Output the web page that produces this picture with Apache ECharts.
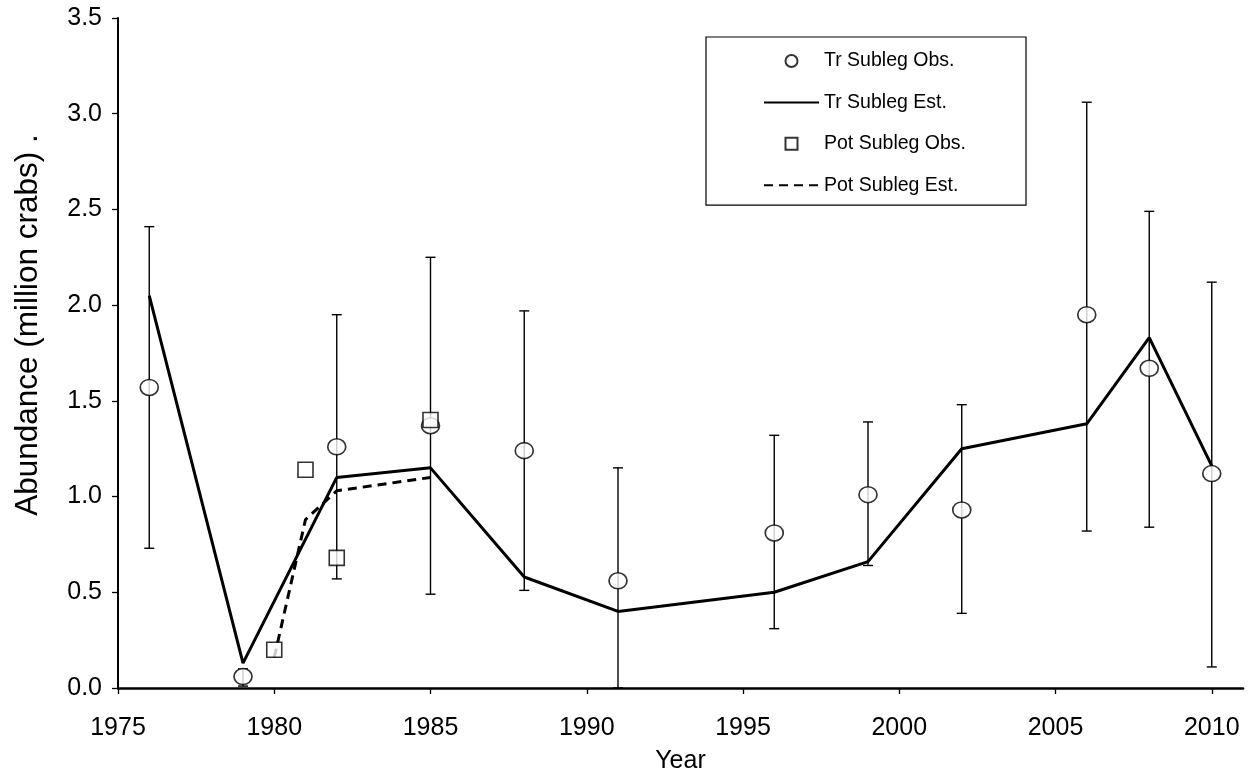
<!DOCTYPE html>
<html>
<head>
<meta charset="utf-8">
<script src="https://cdn.jsdelivr.net/npm/echarts@6/dist/echarts.min.js"></script>
<style>
html,body{margin:0;padding:0;background:#fff;}
#chart{width:1257px;height:773px;}
</style>
</head>
<body>
<div id="chart"></div>
<script>
// ---- data ----
const trObsYears = [1976, 1979, 1982, 1985, 1988, 1991, 1996, 1999, 2002, 2006, 2008, 2010];
const trObs      = [1.57, 0.06, 1.26, 1.37, 1.24, 0.56, 0.81, 1.01, 0.93, 1.95, 1.67, 1.12];
const trObsLow   = [0.73, 0.01, 0.57, 0.49, 0.51, 0.00, 0.31, 0.64, 0.39, 0.82, 0.84, 0.11];
const trObsHigh  = [2.41, 0.10, 1.95, 2.25, 1.97, 1.15, 1.32, 1.39, 1.48, 3.06, 2.49, 2.12];
const trEst      = [2.05, 0.13, 1.10, 1.15, 0.58, 0.40, 0.50, 0.66, 1.25, 1.38, 1.83, 1.16];

const potYears   = [1980, 1981, 1982, 1985];
const potObs     = [0.20, 1.14, 0.68, 1.40];
const potEst     = [0.16, 0.88, 1.03, 1.10];

const xTickValues = [1975, 1980, 1985, 1990, 1995, 2000, 2005, 2010];

const FONT = '"Liberation Sans", Arial, sans-serif';

const chart = echarts.init(document.getElementById('chart'), null, {renderer: 'canvas'});

const pair = (xs, ys) => xs.map((x, i) => [x, ys[i]]);

const option = {
  backgroundColor: '#ffffff',
  animation: false,
  textStyle: {fontFamily: FONT, color: '#000'},
  grid: {left: 118, top: 18, right: 14, bottom: 85, containLabel: false, outerBoundsMode: 'none'},
  legend: {
    orient: 'vertical',
    left: 706,
    top: 37,
    data: [
      {name: 'Tr Subleg Obs.'},
      {name: 'Tr Subleg Est.', itemStyle: {opacity: 0}},
      {name: 'Pot Subleg Obs.', icon: 'path://M0,0L10,0L10,10L0,10Z'},
      {name: 'Pot Subleg Est.', itemStyle: {opacity: 0}}
    ],
    itemWidth: 55,
    itemHeight: 12,
    itemGap: 19.4,
    symbolKeepAspect: true,
    padding: [13, 60, 9, 57],
    borderColor: '#000',
    borderWidth: 1.2,
    backgroundColor: '#fff',
    textStyle: {fontFamily: FONT, fontSize: 19.5, color: '#000', lineHeight: 22},
    selectedMode: false
  },
  xAxis: {
    type: 'value',
    min: 1975,
    max: 2011,
    interval: 5,
    name: 'Year',
    nameLocation: 'middle',
    nameGap: 61,
    nameTextStyle: {fontFamily: FONT, fontSize: 25, color: '#000'},
    axisLine: {lineStyle: {color: '#000', width: 2.5}},
    axisTick: {show: true, inside: false, length: 6, lineStyle: {color: '#000', width: 1.3}, customValues: xTickValues},
    axisLabel: {fontFamily: FONT, fontSize: 25, color: '#000', margin: 28, customValues: xTickValues, formatter: v => String(v)},
    splitLine: {show: false}
  },
  yAxis: {
    type: 'value',
    min: 0,
    max: 3.5,
    interval: 0.5,
    name: 'Abundance (million crabs) .',
    nameLocation: 'middle',
    nameGap: 74,
    nameTextStyle: {fontFamily: FONT, fontSize: 31.5, color: '#000', padding: [0, 0, 0, 56]},
    axisLine: {show: true, lineStyle: {color: '#000', width: 2}},
    axisTick: {show: true, inside: false, length: 6, lineStyle: {color: '#000', width: 1.3}},
    axisLabel: {fontFamily: FONT, fontSize: 25, color: '#000', margin: 16, formatter: v => v.toFixed(1)},
    splitLine: {show: false}
  },
  series: [
    {
      name: 'errorbars',
      type: 'custom',
      z: 2,
      data: trObsYears.map((x, i) => [x, trObsLow[i], trObsHigh[i]]),
      renderItem: function (params, api) {
        const lo = api.coord([api.value(0), api.value(1)]);
        const hi = api.coord([api.value(0), api.value(2)]);
        const half = 5;
        const st = {stroke: '#000', lineWidth: 1.4};
        return {
          type: 'group',
          children: [
            {type: 'line', shape: {x1: lo[0], y1: hi[1], x2: lo[0], y2: lo[1]}, style: st},
            {type: 'line', shape: {x1: lo[0] - half, y1: hi[1], x2: lo[0] + half, y2: hi[1]}, style: st},
            {type: 'line', shape: {x1: lo[0] - half, y1: lo[1], x2: lo[0] + half, y2: lo[1]}, style: st}
          ]
        };
      },
      silent: true
    },
    {
      name: 'Tr Subleg Est.',
      type: 'line',
      z: 3,
      data: pair(trObsYears, trEst),
      symbol: 'none',
      lineStyle: {color: '#000', width: 3, type: 'solid'},
      itemStyle: {color: 'rgba(0,0,0,0)'}
    },
    {
      name: 'Pot Subleg Est.',
      type: 'line',
      z: 3,
      data: pair(potYears, potEst),
      symbol: 'none',
      lineStyle: {color: '#000', width: 3, type: [9, 6]},
      itemStyle: {color: 'rgba(0,0,0,0)'}
    },
    {
      name: 'Tr Subleg Obs.',
      type: 'scatter',
      z: 4,
      data: pair(trObsYears, trObs),
      symbol: 'circle',
      symbolSize: [18, 16],
      itemStyle: {color: '#fff', borderColor: '#000', borderWidth: 1.6}
    },
    {
      name: 'Pot Subleg Obs.',
      type: 'scatter',
      z: 5,
      data: pair(potYears, potObs),
      symbol: 'rect',
      symbolSize: [15, 15],
      itemStyle: {color: '#fff', borderColor: '#000', borderWidth: 1.6}
    }
  ]
};

chart.setOption(option);
</script>
</body>
</html>
